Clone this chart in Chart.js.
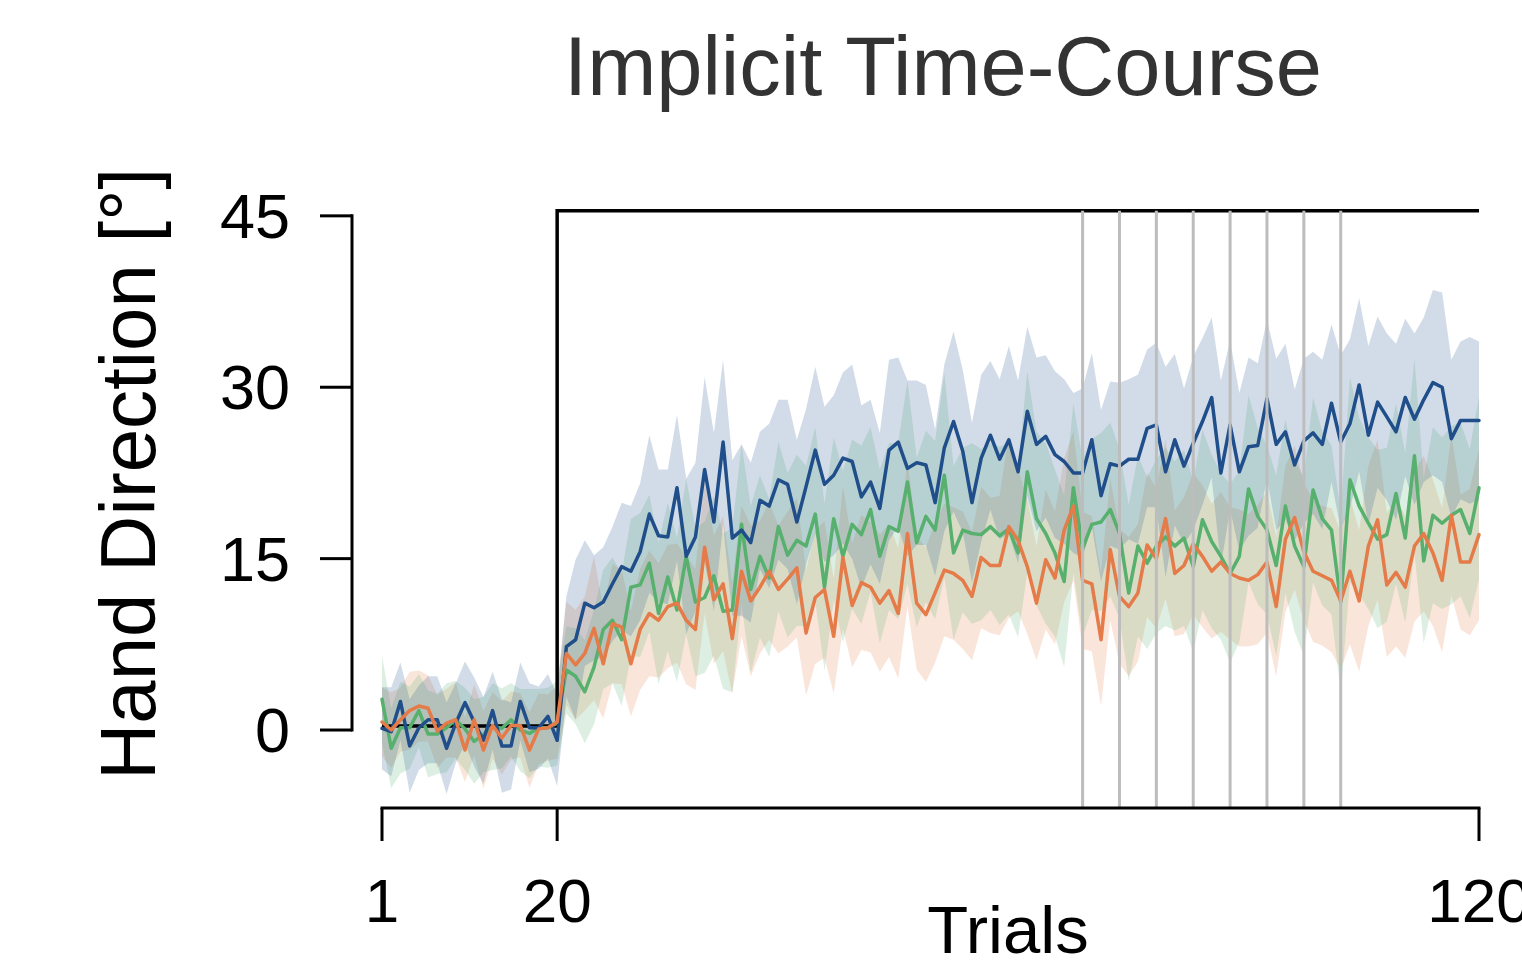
<!DOCTYPE html>
<html><head><meta charset="utf-8">
<script src="https://cdn.jsdelivr.net/npm/chart.js@4.4.0/dist/chart.umd.min.js"></script>
<style>html,body{margin:0;padding:0;background:#fff;}canvas{display:block;}</style>
</head><body>
<canvas id="c" width="1522" height="976"></canvas>
<script>
// ---- data ----
const blueMean = [0.15,-0.15,2.5,-1.4,0.2,0.9,0.9,-1.6,0.6,2.4,0.7,-0.9,1.7,-1.4,-1.4,2.5,0.2,0.2,1.2,-0.9,
7.3,7.9,11.1,10.7,11.2,12.8,14.3,13.9,15.6,18.9,17.0,16.9,21.2,15.2,16.9,22.8,18.2,25.2,16.8,17.5,
16.4,20.1,19.6,21.9,21.5,18.2,21.3,24.5,21.5,22.3,23.8,23.5,20.4,21.7,19.4,24.5,25.2,22.9,23.4,23.2,
19.9,24.7,27.0,24.4,19.9,23.8,25.8,23.7,25.4,22.6,27.9,25.0,25.7,24.1,23.5,22.5,22.5,25.4,20.5,23.3,
23.1,23.7,23.7,26.4,26.7,22.6,25.4,23.1,25.1,27.0,29.1,22.5,26.7,22.6,24.8,24.9,29.0,25.0,26.1,23.2,
25.3,26.0,25.0,28.6,25.2,26.8,30.2,25.8,28.7,27.4,26.1,29.1,27.2,28.9,30.4,30.0,25.5,27.1,27.1,27.1];
const greenMean = [2.7,-1.6,0.2,0.2,1.7,-0.35,-0.35,0.2,0.9,0.1,-1.0,-0.4,0.3,0.15,0.9,0.0,-0.3,0.2,0.2,0.6,
5.25,4.7,3.35,5.5,8.8,9.6,7.9,12.5,12.7,14.6,10.2,13.4,10.5,15.2,11.2,11.6,13.5,10.4,10.5,18.0,
12.3,15.2,13.3,17.8,15.3,16.6,16.1,18.9,12.5,18.5,15.2,18.0,17.1,19.3,15.2,17.8,17.4,21.7,16.4,18.7,
17.5,22.3,15.5,17.5,17.2,17.1,17.8,17.0,17.6,15.5,22.6,18.5,17.2,15.5,13.0,21.2,15.9,18.0,18.2,19.3,
17.2,12.0,16.1,14.6,16.1,16.9,16.1,16.8,14.3,18.4,16.5,15.2,13.7,15.2,21.1,18.7,17.5,14.4,19.6,16.1,
14.3,21.0,18.5,17.5,11.2,21.9,19.6,18.1,16.7,17.1,20.7,16.8,24.0,14.8,18.8,18.1,18.8,19.3,17.2,21.2];
const orangeMean = [0.7,0.0,0.9,1.7,2.1,1.9,-0.1,0.6,0.9,-1.75,0.9,-1.75,0.4,-0.7,0.4,0.4,-1.75,0.1,0.2,0.7,
6.7,5.7,6.7,8.9,5.8,9.3,9.0,5.8,8.8,10.2,9.6,10.8,11.1,9.6,8.8,16.0,11.4,12.8,8.0,13.9,
11.3,12.5,13.9,12.3,13.2,14.2,8.5,11.6,12.3,8.2,15.1,10.9,12.9,12.5,11.1,12.2,10.2,17.2,11.1,10.1,
12.0,14.0,13.7,13.1,11.7,15.1,14.4,14.4,17.8,16.6,14.3,11.1,14.9,13.3,17.5,19.6,13.1,12.8,7.9,15.8,
11.7,10.8,12.0,16.2,15.0,18.5,13.7,14.4,16.3,15.2,13.9,14.7,13.7,13.3,13.1,13.6,14.7,10.8,16.7,18.6,
15.6,13.9,13.5,13.1,11.3,13.9,11.3,16.1,18.4,12.7,13.8,12.5,16.1,17.2,15.5,13.1,18.8,14.7,14.7,17.1];
// half-widths of the shaded bands
const blueHW = [3.6,3.9,3.4,4.1,3.7,3.8,3.8,4.0,3.5,3.6,3.9,3.8,3.4,4.1,3.8,3.4,3.9,3.6,3.7,4.0,
4.4,7.0,5.5,4.6,4.8,5.0,5.6,5.7,6.0,6.9,5.8,5.9,6.4,6.8,6.5,8.1,7.8,7.2,6.8,7.5,
7.0,6.0,7.2,7.0,7.4,7.2,6.8,7.3,6.8,7.0,7.5,8.5,8.0,7.2,6.6,7.9,7.4,7.7,7.2,7.0,
6.4,7.3,7.9,7.1,7.0,7.3,6.5,7.0,8.2,8.0,7.4,7.6,7.1,7.3,7.2,7.0,7.4,7.6,7.5,7.2,
7.3,7.0,7.4,6.9,7.2,9.2,7.5,6.8,7.6,7.3,7.0,8.1,7.4,6.9,7.8,7.2,6.9,7.5,7.7,6.6,
7.2,7.1,7.4,6.9,7.6,7.4,7.6,7.8,7.5,7.3,7.7,6.9,7.5,7.2,8.1,8.3,6.9,6.9,7.3,6.9];
const greenHW = [3.8,3.5,4.0,3.6,3.2,3.8,3.5,3.9,3.4,3.6,3.7,3.3,3.8,3.5,3.2,3.6,3.9,3.4,3.5,3.7,
3.8,4.2,4.5,5.0,5.2,5.5,5.8,6.0,6.3,6.0,6.2,6.5,6.3,6.8,6.5,6.6,7.0,6.8,7.2,7.0,
7.3,7.1,6.9,7.4,7.2,7.5,7.0,7.6,7.3,7.1,7.5,7.4,7.8,7.2,7.6,7.3,7.7,8.9,7.4,7.5,
7.8,8.9,7.6,7.2,7.9,7.5,7.3,7.8,7.5,7.4,8.8,7.6,7.9,7.3,7.5,7.4,7.7,7.5,7.8,7.6,
7.4,7.7,7.9,7.5,7.6,7.8,7.4,7.7,7.5,7.9,7.6,7.3,7.8,7.5,8.2,7.7,7.4,7.9,7.6,7.5,
7.8,8.1,7.6,7.4,7.9,9.0,7.7,7.5,7.8,7.6,7.9,7.4,8.5,7.2,7.7,7.5,7.8,7.6,7.4,8.0];
const orangeHW = [3.0,3.3,2.8,3.4,3.1,2.9,3.2,3.0,3.3,2.8,3.1,3.4,2.9,3.2,3.0,2.8,3.3,3.1,2.9,3.2,
4.5,4.8,5.0,6.3,4.8,5.2,5.0,4.6,5.3,5.5,5.0,5.4,5.2,5.6,5.3,5.8,5.6,5.9,4.8,5.7,
6.6,5.8,6.0,5.6,5.9,6.1,5.5,5.8,6.0,5.0,6.2,5.4,5.9,5.7,6.0,5.8,5.7,6.4,5.8,5.9,
6.1,5.8,5.8,6.0,5.6,6.2,5.9,6.1,8.0,6.2,5.9,5.0,6.1,5.8,6.3,6.5,6.0,5.9,5.8,6.2,
5.9,6.1,6.0,6.3,6.1,7.0,5.5,6.0,6.2,6.2,5.9,6.1,5.8,6.0,5.8,6.1,6.2,6.1,6.4,6.3,
6.0,6.2,6.1,6.3,6.0,6.4,6.2,7.0,7.0,6.3,6.5,6.2,6.6,6.8,6.4,6.3,7.0,5.9,6.4,7.5];
// perturbation schedule (as drawn)
const scheduleTrials = [1, 20, 20, 120];
const scheduleValues = [0.35, 0.35, 45.45, 45.45];
// trials marked by grey vertical lines
const markerTrials = [77, 81, 85, 89, 93, 97, 101, 105];
const yTickValues = [0, 15, 30, 45];
const xTickValues = [1, 20, 120];
const titleText = 'Implicit Time-Course';
const xTitle = 'Trials';
const yTitle = 'Hand Direction [°]';

const trials = blueMean.map((_, i) => i + 1);
const pts = arr => arr.map((v, i) => ({x: trials[i], y: v}));
const lower = (m, h) => m.map((v, i) => v - h[i]);
const upper = (m, h) => m.map((v, i) => v + h[i]);

const BLUE = '#1f4e8a', GREEN = '#57b06d', ORANGE = '#e47b48';
const band = (m, h, col) => [
  {data: pts(lower(m, h)), borderWidth: 0, pointRadius: 0, fill: false, order: 10, clip: false},
  {data: pts(upper(m, h)), borderWidth: 0, pointRadius: 0, fill: '-1', backgroundColor: col, order: 10, clip: false}
];
const line = (m, col, ord) => ({data: pts(m), borderColor: col, borderWidth: 3.5, pointRadius: 0, fill: false,
  borderJoinStyle: 'round', borderCapStyle: 'round', order: ord, clip: false});

const FONT = '"Liberation Sans", Arial, Helvetica, sans-serif';

const decor = {
  id: 'decor',
  afterDatasetsDraw(chart) {
    const {ctx, scales: {x, y}} = chart;
    const axisY = chart.chartArea.bottom - 2;
    ctx.save();
    ctx.strokeStyle = '#bdbdbd';
    ctx.lineWidth = 3;
    markerTrials.forEach(t => {
      const px = x.getPixelForValue(t);
      ctx.beginPath();
      ctx.moveTo(px, y.getPixelForValue(scheduleValues[3]));
      ctx.lineTo(px, axisY);
      ctx.stroke();
    });
    ctx.restore();
  },
  afterDraw(chart) {
    const {ctx, scales: {x, y}} = chart;
    const axisY = chart.chartArea.bottom - 2;
    const axisX = x.getPixelForValue(1) - 30;
    ctx.save();
    ctx.strokeStyle = '#000';
    ctx.fillStyle = '#000';
    ctx.lineWidth = 3;
    ctx.lineCap = 'butt';
    // x axis
    ctx.beginPath();
    ctx.moveTo(x.getPixelForValue(xTickValues[0]) - 1.5, axisY);
    ctx.lineTo(x.getPixelForValue(xTickValues[xTickValues.length - 1]) + 1.5, axisY);
    ctx.stroke();
    ctx.font = '62px ' + FONT;
    ctx.textAlign = 'center';
    ctx.textBaseline = 'alphabetic';
    xTickValues.forEach(t => {
      const px = x.getPixelForValue(t);
      ctx.beginPath(); ctx.moveTo(px, axisY); ctx.lineTo(px, axisY + 33); ctx.stroke();
      ctx.fillText(String(t), px, 922);
    });
    // y axis
    ctx.beginPath();
    ctx.moveTo(axisX, y.getPixelForValue(yTickValues[0]) + 1.5);
    ctx.lineTo(axisX, y.getPixelForValue(yTickValues[yTickValues.length - 1]) - 1.5);
    ctx.stroke();
    ctx.font = '63px ' + FONT;
    ctx.textAlign = 'right';
    yTickValues.forEach(v => {
      const py = y.getPixelForValue(v);
      ctx.beginPath(); ctx.moveTo(axisX, py); ctx.lineTo(axisX - 32, py); ctx.stroke();
      ctx.fillText(String(v), 290, py + 22);
    });
    // axis titles
    ctx.textAlign = 'center';
    ctx.font = '67px ' + FONT;
    ctx.fillText(xTitle, 1008, 953);
    ctx.save();
    ctx.translate(155, 474);
    ctx.rotate(-Math.PI / 2);
    ctx.font = '78px ' + FONT;
    ctx.fillText(yTitle, 0, 0);
    ctx.restore();
    // main title
    ctx.fillStyle = '#333333';
    ctx.font = '83px ' + FONT;
    ctx.fillText(titleText, 943, 95);
    ctx.restore();
  }
};

new Chart(document.getElementById('c'), {
  type: 'line',
  data: {
    datasets: [
      ...band(blueMean, blueHW, 'rgba(31,78,138,0.2)'),
      ...band(greenMean, greenHW, 'rgba(87,176,109,0.2)'),
      ...band(orangeMean, orangeHW, 'rgba(228,123,72,0.2)'),
      {data: scheduleTrials.map((t, i) => ({x: t, y: scheduleValues[i]})), borderColor: '#000', borderWidth: 3.5,
       pointRadius: 0, fill: false, order: 5, clip: false, borderJoinStyle: 'miter'},
      line(greenMean, GREEN, 3),
      line(blueMean, BLUE, 2),
      line(orangeMean, ORANGE, 1)
    ]
  },
  options: {
    responsive: false,
    animation: false,
    devicePixelRatio: 1,
    events: [],
    layout: {padding: {left: 382, right: 43, top: 193, bottom: 166}},
    scales: {
      x: {type: 'linear', min: 1, max: 120, display: false},
      y: {type: 'linear', min: -7, max: 47, display: false}
    },
    plugins: {legend: {display: false}, tooltip: {enabled: false}, title: {display: false}}
  },
  plugins: [decor]
});
</script>
</body></html>
